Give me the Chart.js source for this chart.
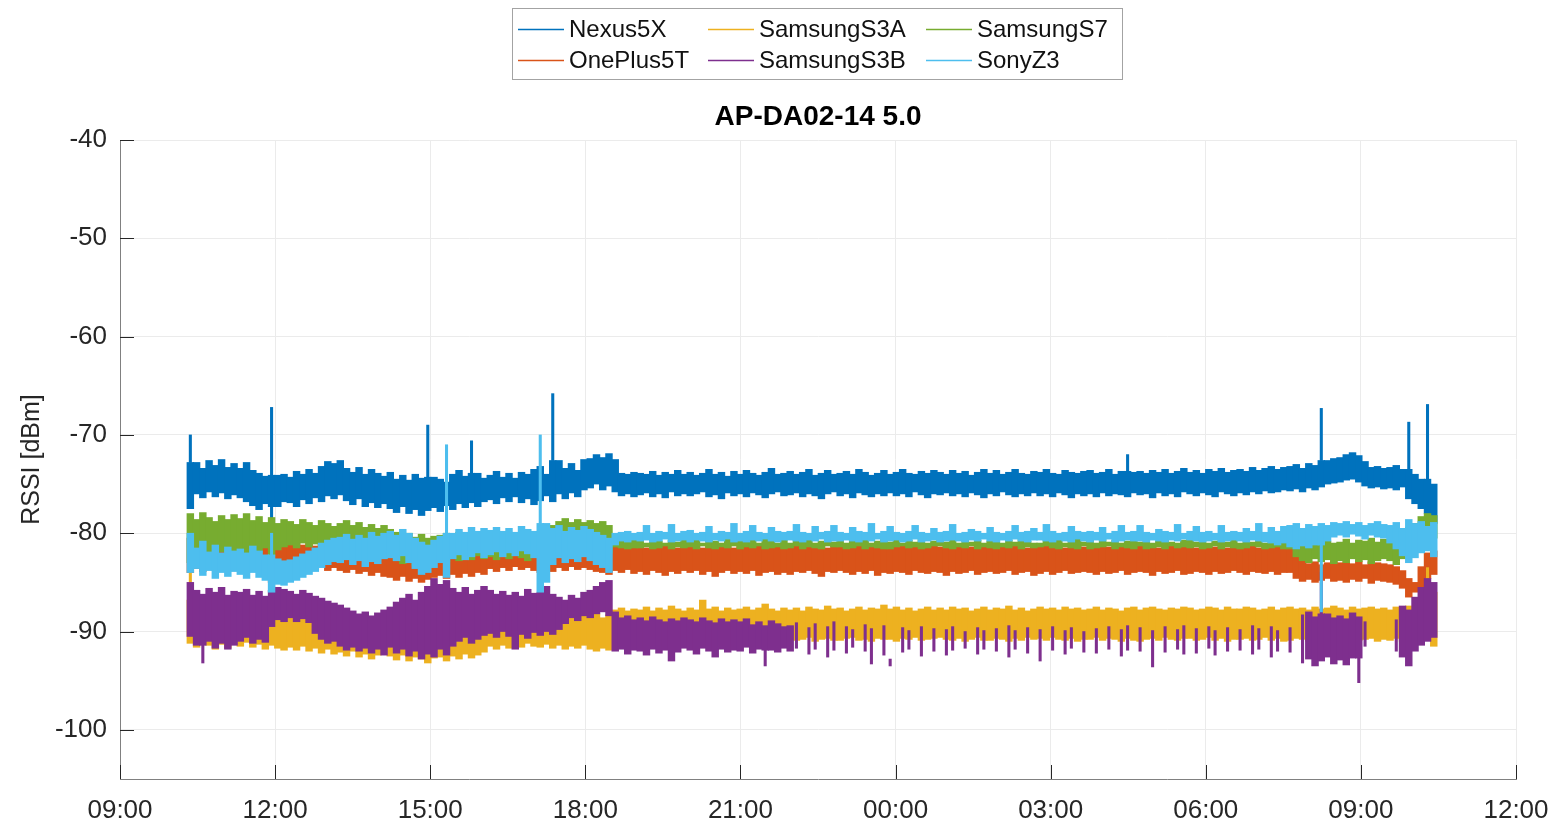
<!DOCTYPE html>
<html>
<head>
<meta charset="utf-8">
<title>AP-DA02-14 5.0</title>
<script src="https://cdn.jsdelivr.net/npm/chart.js@4.4.1/dist/chart.umd.min.js"></script>
<style>
  html, body { margin: 0; padding: 0; background: #fff; }
  #wrap { width: 1555px; height: 825px; }
</style>
</head>
<body>
<div id="wrap"><canvas id="rssi" width="1555" height="825"></canvas></div>
<script>
// measurement window, clock hours (day 2 counted as 24+)
const tStart = 10.3;
const tEnd = 34.47;

// x axis ticks every 3 h from 09:00 to 12:00 next day
const xMin = 9, xMax = 36, xStep = 3;
const yTicks = [-100, -90, -80, -70, -60, -50, -40];

const deviceNames = ['Nexus5X', 'OnePlus5T', 'SamsungS3A', 'SamsungS3B', 'SamsungS7', 'SonyZ3'];

// per-bin upper / lower envelope of the RSSI trace [dBm], 200 bins over the window
const nexusHi = [
  -70.0,-72.8,-73.4,-72.6,-73.1,-72.5,-73.3,-72.9, -73.4,-72.8,-73.6,-73.9,-74.2,-67.2,-74.1,-74.0,
  -74.3,-73.7,-74.0,-73.5,-73.9,-73.2,-72.7,-72.9, -72.6,-73.4,-73.8,-73.3,-74.0,-73.5,-73.9,-74.2,
  -73.8,-74.5,-74.1,-74.6,-74.0,-74.4,-69.0,-74.3, -74.5,-74.8,-74.0,-73.6,-74.2,-70.6,-73.9,-74.4,
  -74.1,-73.7,-74.3,-73.9,-74.4,-73.8,-74.0,-73.5, -73.2,-74.0,-65.8,-72.6,-73.4,-72.9,-73.6,-72.5,
  -72.4,-72.0,-72.3,-71.9,-72.5,-73.9,-74.0,-73.8, -73.9,-74.0,-73.7,-74.1,-73.8,-74.0,-73.6,-74.0,
  -73.8,-74.1,-73.9,-73.5,-74.0,-73.8,-74.2,-73.7, -74.0,-73.6,-73.9,-74.1,-73.8,-73.4,-74.0,-73.9,
  -73.7,-74.0,-73.8,-73.5,-74.1,-73.9,-73.6,-74.0, -73.9,-73.7,-74.0,-73.5,-73.8,-74.1,-73.9,-73.6,
  -74.0,-73.8,-73.5,-73.9,-74.0,-73.7,-73.9,-73.6, -73.8,-74.0,-73.6,-73.9,-73.7,-74.1,-73.8,-73.5,
  -73.9,-73.6,-74.0,-73.8,-73.5,-73.9,-74.0,-73.7, -73.8,-73.5,-73.9,-74.0,-73.6,-73.8,-73.9,-73.7,
  -73.6,-73.9,-73.8,-73.5,-74.0,-73.7,-72.0,-73.8, -73.7,-73.9,-73.6,-73.8,-73.5,-73.9,-73.7,-73.4,
  -73.8,-73.6,-73.9,-73.5,-73.7,-73.4,-73.8,-73.6, -73.5,-73.7,-73.3,-73.6,-73.4,-73.2,-73.5,-73.3,
  -73.2,-73.0,-73.4,-72.9,-73.1,-67.3,-72.6,-72.4, -72.3,-72.0,-71.8,-72.1,-72.7,-73.3,-73.2,-73.4,
  -73.3,-73.1,-73.5,-68.7,-74.0,-74.5,-66.9,-75.0
];
const nexusLo = [
  -77.5,-76.0,-76.4,-75.8,-76.3,-75.9,-76.5,-76.1, -76.4,-76.8,-77.2,-77.6,-77.0,-79.5,-77.3,-76.8,
  -76.9,-77.3,-76.6,-77.0,-76.4,-76.8,-76.2,-76.5, -76.1,-76.7,-77.1,-76.5,-77.3,-76.9,-77.4,-77.0,
  -77.5,-77.9,-77.3,-78.0,-77.6,-78.2,-77.7,-77.4, -77.8,-77.2,-77.6,-77.0,-77.4,-76.9,-77.3,-76.8,
  -76.6,-77.0,-76.4,-76.8,-76.3,-76.9,-76.5,-77.1, -76.7,-76.2,-76.8,-76.0,-76.5,-75.9,-76.3,-75.6,
  -75.4,-75.0,-75.6,-75.2,-75.8,-76.2,-76.0,-76.3, -76.1,-75.9,-76.3,-76.0,-76.4,-75.8,-76.2,-76.0,
  -76.2,-76.0,-75.8,-76.3,-76.1,-76.5,-75.9,-76.2, -76.0,-76.3,-75.9,-76.1,-76.4,-76.0,-75.8,-76.2,
  -76.1,-75.9,-76.3,-76.0,-76.2,-76.5,-76.0,-75.8, -76.2,-76.0,-76.4,-75.9,-76.1,-76.3,-76.0,-76.2,
  -75.9,-76.2,-76.0,-76.3,-75.8,-76.1,-76.4,-76.0, -76.1,-75.9,-76.2,-76.0,-76.3,-75.9,-76.1,-76.4,
  -76.0,-76.2,-75.8,-76.1,-76.3,-76.0,-76.2,-75.9, -76.2,-76.0,-76.3,-75.9,-76.1,-76.4,-76.0,-76.2,
  -76.0,-76.3,-75.9,-76.2,-76.0,-76.1,-76.3,-75.9, -76.1,-76.0,-76.4,-75.9,-76.2,-76.0,-76.3,-75.8,
  -76.0,-76.2,-75.9,-76.1,-76.3,-75.8,-76.0,-76.2, -75.9,-76.1,-75.8,-76.0,-75.7,-75.9,-75.8,-75.6,
  -75.7,-75.5,-75.8,-75.4,-75.6,-75.3,-75.0,-74.9, -74.8,-74.6,-74.5,-74.8,-75.2,-75.4,-75.3,-75.5,
  -75.4,-75.6,-75.3,-76.5,-77.0,-77.5,-78.0,-79.0
];

const onePlusHi = [
  -80.5,-81.2,-81.0,-81.4,-81.1,-81.5,-81.2,-81.3, -81.2,-81.5,-81.1,-81.4,-81.0,-80.5,-81.3,-81.2,
  -81.0,-80.8,-81.2,-80.9,-81.3,-81.0,-81.4,-81.2, -81.6,-81.9,-82.0,-81.8,-82.1,-81.9,-81.5,-81.8,
  -81.4,-81.8,-82.0,-82.3,-81.9,-82.2,-82.0,-81.8, -81.6,-82.0,-81.8,-82.1,-81.7,-82.0,-81.9,-81.6,
  -81.7,-82.0,-81.8,-82.1,-81.9,-82.2,-81.8,-82.0, -81.8,-81.5,-82.0,-81.7,-82.1,-81.9,-82.2,-81.8,
  -82.0,-81.8,-82.1,-81.9,-81.4,-81.3,-81.5,-81.2, -81.3,-81.5,-81.2,-81.4,-81.1,-81.3,-81.5,-81.2,
  -81.4,-81.2,-81.5,-81.3,-81.1,-81.4,-81.2,-81.5, -81.2,-81.4,-81.3,-81.1,-81.5,-81.2,-81.4,-81.3,
  -81.5,-81.3,-81.2,-81.4,-81.1,-81.3,-81.5,-81.2, -81.3,-81.1,-81.4,-81.2,-81.5,-81.3,-81.2,-81.4,
  -81.2,-81.4,-81.3,-81.5,-81.2,-81.1,-81.4,-81.3, -81.4,-81.2,-81.5,-81.3,-81.1,-81.4,-81.3,-81.2,
  -81.3,-81.5,-81.2,-81.4,-81.3,-81.1,-81.5,-81.2, -81.2,-81.3,-81.4,-81.1,-81.5,-81.2,-81.3,-81.4,
  -81.5,-81.2,-81.3,-81.4,-81.1,-81.3,-81.2,-81.5, -81.3,-81.4,-81.2,-81.5,-81.3,-81.1,-81.4,-81.2,
  -81.2,-81.5,-81.3,-81.1,-81.4,-81.2,-81.5,-81.3, -81.4,-81.2,-81.3,-81.5,-81.2,-81.4,-81.1,-81.3,
  -81.3,-81.5,-82.8,-83.1,-82.9,-83.2,-83.0,-82.8, -83.0,-82.7,-83.1,-82.8,-83.2,-82.9,-83.0,-83.1,
  -83.2,-83.4,-83.8,-84.6,-85.0,-83.4,-82.0,-81.8
];
const onePlusLo = [
  -84.0,-83.6,-83.9,-83.5,-83.8,-83.4,-83.7,-83.5, -83.6,-83.4,-83.8,-83.5,-83.9,-85.0,-83.6,-83.3,
  -83.5,-83.2,-83.6,-83.3,-83.7,-83.4,-83.8,-83.5, -83.8,-84.0,-83.7,-84.1,-83.9,-84.3,-84.0,-84.4,
  -84.5,-84.8,-84.4,-84.9,-84.6,-85.0,-84.7,-84.5, -84.3,-84.6,-84.2,-84.5,-84.1,-84.4,-84.0,-84.2,
  -83.6,-83.9,-83.5,-83.8,-83.4,-83.7,-83.5,-83.8, -84.0,-83.6,-83.9,-83.5,-83.8,-83.4,-83.7,-83.5,
  -83.7,-83.9,-84.0,-84.2,-83.8,-84.0,-83.7,-84.1, -83.9,-84.2,-83.8,-84.0,-84.3,-83.9,-84.1,-83.8,
  -84.0,-83.8,-84.2,-83.9,-84.4,-84.0,-83.8,-84.1, -83.9,-84.1,-83.8,-84.3,-84.0,-83.9,-84.2,-84.0,
  -84.2,-83.9,-84.0,-83.8,-84.1,-84.4,-83.9,-84.0, -83.8,-84.0,-84.2,-83.9,-84.1,-83.8,-84.3,-84.0,
  -84.1,-83.9,-84.0,-84.2,-83.8,-84.0,-84.1,-83.9, -84.0,-84.3,-83.9,-84.1,-84.0,-83.8,-84.2,-84.0,
  -83.9,-84.1,-84.0,-83.8,-84.2,-84.0,-83.9,-84.3, -84.1,-83.9,-84.2,-84.0,-83.8,-84.1,-84.0,-83.9,
  -84.0,-84.2,-83.9,-84.1,-84.0,-83.8,-84.2,-84.0, -83.9,-84.0,-84.3,-83.9,-84.1,-84.0,-83.8,-84.2,
  -84.1,-83.9,-84.0,-84.2,-83.9,-84.1,-84.0,-83.8, -84.0,-84.2,-83.9,-84.0,-84.1,-83.9,-84.2,-84.0,
  -84.0,-84.6,-84.9,-84.7,-85.0,-84.8,-84.6,-84.9, -84.8,-85.0,-84.7,-84.9,-84.6,-85.1,-84.8,-84.9,
  -85.0,-85.2,-85.6,-86.5,-86.0,-85.5,-84.6,-84.2
];

const s3aHi = [
  -79.0,-86.8,-87.2,-86.9,-87.4,-87.0,-87.5,-87.1, -87.3,-87.6,-87.1,-87.5,-87.2,-87.8,-88.0,-88.3,
  -88.2,-88.5,-88.0,-88.4,-88.1,-88.6,-88.3,-88.7, -88.5,-88.9,-88.6,-89.0,-88.7,-89.2,-88.8,-88.5,
  -88.3,-88.0,-88.5,-88.2,-88.6,-88.1,-88.4,-88.0, -87.8,-88.2,-87.9,-88.3,-88.0,-88.4,-87.7,-88.1,
  -87.9,-88.2,-87.8,-88.1,-88.4,-88.0,-88.3,-87.9, -88.1,-87.8,-88.2,-87.9,-88.3,-88.0,-88.4,-88.1,
  -88.4,-88.2,-88.6,-88.3,-87.8,-87.6,-87.9,-87.7, -87.8,-87.5,-87.9,-87.6,-87.8,-87.4,-87.7,-87.9,
  -87.6,-87.8,-86.8,-87.7,-87.5,-87.9,-87.6,-87.8, -87.7,-87.5,-87.8,-87.6,-87.2,-87.7,-87.9,-87.6,
  -87.8,-87.6,-87.9,-87.5,-87.7,-87.8,-87.4,-87.7, -87.6,-87.9,-87.7,-87.5,-87.8,-87.6,-87.7,-87.3,
  -87.7,-87.5,-87.8,-87.6,-87.9,-87.7,-87.5,-87.8, -87.6,-87.8,-87.5,-87.7,-87.6,-87.9,-87.7,-87.5,
  -87.8,-87.6,-87.7,-87.4,-87.8,-87.6,-87.9,-87.7, -87.5,-87.7,-87.6,-87.8,-87.5,-87.7,-87.6,-87.8,
  -87.7,-87.5,-87.8,-87.6,-87.7,-87.9,-87.6,-87.5, -87.8,-87.6,-87.5,-87.7,-87.8,-87.6,-87.7,-87.5,
  -87.6,-87.8,-87.7,-87.5,-87.6,-87.8,-87.5,-87.7, -87.7,-87.5,-87.6,-87.8,-87.7,-87.5,-87.8,-87.6,
  -87.5,-87.7,-87.6,-87.8,-87.5,-87.7,-87.6,-87.4, -87.6,-87.8,-87.5,-87.7,-87.6,-87.5,-87.7,-87.6,
  -87.8,-87.5,-87.7,-87.4,-87.6,-87.2,-83.5,-86.0
];
const s3aLo = [
  -91.2,-91.6,-91.0,-91.4,-91.8,-91.3,-91.7,-91.2, -91.5,-91.1,-91.6,-91.3,-91.8,-91.4,-91.7,-91.9,
  -91.6,-91.9,-91.5,-92.0,-91.7,-92.2,-91.8,-92.3, -92.1,-92.5,-92.0,-92.6,-92.3,-92.8,-92.4,-92.2,
  -92.5,-92.9,-92.4,-93.0,-92.6,-92.8,-93.2,-92.7, -92.6,-93.0,-92.5,-92.8,-92.3,-92.7,-92.4,-92.1,
  -91.5,-91.8,-91.4,-91.7,-91.3,-91.6,-91.2,-91.5, -91.6,-91.3,-91.7,-91.4,-91.8,-91.5,-91.7,-91.4,
  -91.8,-92.0,-91.7,-91.9,-90.8,-90.6,-90.9,-90.7, -90.8,-91.0,-90.6,-90.9,-90.7,-91.1,-90.8,-90.6,
  -90.9,-90.7,-91.0,-90.8,-90.6,-90.9,-91.1,-90.7, -90.8,-90.6,-90.9,-91.0,-90.7,-90.8,-90.6,-91.0,
  -90.7,-90.9,-90.8,-90.6,-91.0,-90.8,-90.7,-90.9, -90.9,-90.7,-90.6,-90.9,-90.8,-91.0,-90.7,-90.8,
  -90.8,-91.0,-90.7,-90.8,-90.6,-90.9,-90.8,-90.7, -90.6,-90.8,-90.9,-90.7,-91.0,-90.8,-90.6,-90.9,
  -90.9,-90.7,-90.8,-91.0,-90.7,-90.9,-90.6,-90.8, -90.7,-90.9,-90.6,-90.8,-90.9,-90.7,-91.0,-90.8,
  -90.8,-90.6,-90.9,-90.7,-90.8,-91.0,-90.7,-90.9, -91.0,-90.8,-90.7,-90.9,-90.6,-90.8,-90.9,-90.7,
  -90.7,-90.9,-90.8,-90.6,-90.9,-90.7,-91.0,-90.8, -90.8,-90.7,-90.9,-90.8,-90.6,-90.9,-90.7,-91.0,
  -90.9,-90.7,-90.8,-91.0,-90.7,-90.9,-90.8,-90.6, -90.8,-91.0,-90.7,-90.9,-90.8,-90.7,-91.0,-90.8,
  -90.9,-90.7,-91.0,-91.2,-90.8,-91.0,-90.6,-91.5
];

// null = no sample from this phone in that bin
const s3bHi = [
  -85.0,-85.8,-86.2,-85.6,-86.0,-85.5,-86.3,-85.9, -86.0,-85.7,-86.3,-85.9,-86.4,-85.8,-85.5,-85.7,
  -85.9,-86.2,-85.8,-86.1,-86.4,-86.6,-86.9,-87.1, -87.3,-87.6,-87.9,-88.2,-88.0,-88.4,-88.1,-87.8,
  -87.5,-87.0,-86.6,-86.2,-86.8,-86.0,-85.4,-84.6, -85.2,-84.8,-85.6,-86.0,-85.5,-86.2,-85.8,-85.4,
  -85.8,-86.2,-85.9,-86.3,-86.0,-86.4,-85.7,-86.1, -86.0,-85.4,-86.2,-86.5,-86.8,-86.3,-86.6,-86.0,
  -85.8,-85.4,-85.0,-84.8,-88.0,-88.6,-88.4,-88.8, -88.6,-88.9,-88.5,-88.8,-89.0,-88.7,-88.9,-88.6,
  -88.8,-89.0,-88.6,-88.9,-89.1,-88.7,-89.0,-88.8, -89.0,-88.7,-89.3,-89.0,-89.4,-88.9,-89.2,-89.5,
  -89.4,-89.1,null,-89.6,-89.2,null,-89.5,-89.0, null,-89.5,-89.8,null,-89.3,-89.7,null,-89.4,
  -92.8,null,-89.6,-89.9,null,-89.5,null,-89.7, null,-89.8,-89.5,null,-90.0,null,-89.6,-89.9,
  null,-89.7,null,-89.4,-89.9,null,-89.6,null, -89.8,null,-89.5,null,-89.9,-89.6,null,-90.0,
  null,-89.7,null,-89.5,null,-89.8,-89.4,null, -89.6,null,-89.9,null,-89.5,null,-89.8,-89.4,
  null,-89.7,null,-89.5,-89.9,null,-89.6,null, -89.8,null,-89.4,-89.7,null,-89.5,-89.9,null,
  -89.6,null,-88.3,-88.0,-88.5,-84.0,-88.2,-88.6, -88.4,-88.7,-88.1,-88.5,-89.0,null,null,null,
  null,-88.8,-87.4,-87.8,-86.5,-85.5,-84.6,-85.0
];
const s3bLo = [
  -90.5,-91.4,-93.2,-91.0,-91.7,-91.2,-91.8,-91.4, -91.0,-90.6,-91.2,-90.8,-91.1,-89.5,-88.8,-89.0,
  -88.6,-89.0,-88.7,-89.1,-90.2,-90.8,-91.2,-91.0, -91.5,-91.9,-91.6,-92.0,-91.7,-92.2,-91.8,-92.4,
  -91.6,-92.2,-91.8,-92.5,-92.0,-92.8,-92.3,-92.6, -91.8,-92.4,-91.5,-91.0,-90.6,-91.2,-90.8,-90.4,
  -90.2,-90.6,-90.0,-90.5,-91.8,-90.3,-90.7,-90.1, -90.4,-90.0,-90.3,-89.8,-89.2,-88.6,-88.9,-88.4,
  -88.6,-88.2,-88.0,-88.4,-92.0,-91.8,-92.3,-91.9, -92.0,-92.4,-91.8,-92.2,-91.9,-93.0,-92.1,-91.7,
  -91.9,-92.3,-91.7,-92.0,-92.6,-91.8,-92.1,-91.9, -92.0,-91.6,-92.2,-91.8,-93.5,-91.9,-92.1,-91.7,
  -92.0,-91.7,null,-92.3,-91.8,null,-92.6,-91.9, null,-92.2,-91.6,null,-92.0,-93.3,null,-92.4,
  -93.5,null,-92.1,-91.8,null,-92.5,null,-92.0, null,-92.4,-91.9,null,-91.7,null,-92.3,-91.8,
  null,-92.0,null,-92.6,-91.8,null,-92.2,null, -93.0,null,-91.9,null,-92.3,-91.7,null,-92.1,
  null,-92.2,null,-91.8,null,-92.5,-91.9,null, -92.0,null,-93.6,null,-92.1,null,-91.8,-92.3,
  null,-92.2,null,-91.7,-92.4,null,-92.0,null, -91.9,null,-92.3,-91.8,null,-92.6,-92.0,null,
  -92.1,null,-93.2,-92.8,-93.5,-93.0,-92.6,-93.3, -92.9,-93.4,-92.7,-95.2,-91.5,null,null,null,
  null,-92.0,-92.6,-93.5,-92.0,-91.4,-91.0,-90.6
];

const s7Hi = [
  -78.0,-78.6,-77.9,-78.4,-78.8,-78.2,-78.6,-78.1, -78.5,-78.0,-78.7,-78.3,-78.9,-78.4,-79.0,-78.6,
  -78.8,-79.1,-78.6,-78.9,-79.2,-78.7,-79.0,-79.3, -79.0,-78.7,-79.2,-78.9,-79.4,-79.1,-79.5,-79.2,
  -79.6,-79.9,-80.2,-80.0,-80.4,-80.1,-80.5,-80.3, -80.2,-80.0,-80.4,-79.9,-80.3,-80.0,-80.2,-79.8,
  -80.0,-80.3,-79.9,-80.2,-80.4,-80.1,-79.8,-80.0, -79.8,-79.5,-79.2,-78.8,-78.5,-78.9,-78.6,-78.9,
  -78.7,-79.0,-78.8,-79.2,-80.3,-80.6,-80.5,-80.6, -80.7,-81.0,-80.6,-80.8,-81.0,-80.7,-80.9,-80.6,
  -80.9,-80.6,-81.0,-80.7,-80.8,-81.0,-80.6,-80.9, -80.6,-80.9,-80.7,-81.0,-80.6,-80.8,-81.0,-80.7,
  -81.0,-80.7,-80.9,-80.6,-81.0,-80.8,-80.6,-80.9, -80.7,-81.0,-80.6,-80.9,-80.7,-81.0,-80.8,-80.6,
  -80.9,-80.6,-81.0,-80.7,-80.9,-80.6,-81.0,-80.8, -80.6,-80.9,-80.7,-81.0,-80.6,-80.9,-80.7,-81.0,
  -80.8,-80.6,-81.0,-80.7,-80.9,-80.6,-80.8,-81.0, -81.0,-80.7,-80.9,-80.6,-81.0,-80.8,-80.6,-80.9,
  -80.7,-81.0,-80.6,-80.9,-80.7,-81.0,-80.8,-80.6, -80.9,-80.6,-81.0,-80.8,-80.6,-80.9,-81.0,-80.7,
  -80.6,-80.9,-80.7,-81.0,-80.8,-80.6,-80.9,-80.7, -81.0,-80.7,-80.9,-80.6,-81.0,-80.8,-80.7,-80.9,
  -80.8,-80.6,-80.9,-80.7,-81.0,-80.5,-80.8,-81.0, -80.9,-80.6,-81.0,-80.7,-80.8,-80.5,-80.9,-80.6,
  -80.7,-81.0,-80.2,-79.4,-79.0,-78.3,-78.0,-78.2
];
const s7Lo = [
  -83.0,-82.2,-82.6,-82.0,-82.4,-81.9,-82.5,-82.1, -81.8,-82.2,-81.6,-82.0,-81.5,-82.3,-81.7,-81.4,
  -81.2,-81.5,-81.0,-81.4,-81.1,-81.6,-81.3,-81.5, -81.6,-81.9,-81.5,-82.0,-81.7,-82.1,-81.8,-82.2,
  -82.4,-82.8,-83.1,-82.7,-83.3,-82.9,-83.2,-82.8, -82.6,-82.9,-82.5,-82.8,-82.4,-82.7,-82.3,-82.6,
  -82.4,-82.7,-82.3,-82.6,-82.2,-82.5,-82.8,-82.4, -82.3,-82.0,-81.7,-81.4,-81.6,-81.2,-81.5,-81.3,
  -81.4,-81.6,-81.8,-82.0,-81.4,-81.5,-81.6,-81.5, -81.5,-81.4,-81.6,-81.5,-81.3,-81.6,-81.4,-81.5,
  -81.4,-81.6,-81.3,-81.5,-81.6,-81.4,-81.5,-81.3, -81.6,-81.4,-81.5,-81.3,-81.6,-81.5,-81.4,-81.6,
  -81.5,-81.3,-81.6,-81.4,-81.5,-81.6,-81.3,-81.4, -81.4,-81.6,-81.5,-81.3,-81.6,-81.4,-81.5,-81.6,
  -81.6,-81.4,-81.3,-81.5,-81.4,-81.6,-81.5,-81.3, -81.3,-81.5,-81.6,-81.4,-81.5,-81.3,-81.6,-81.4,
  -81.5,-81.6,-81.4,-81.5,-81.3,-81.6,-81.4,-81.5, -81.4,-81.3,-81.5,-81.6,-81.4,-81.5,-81.6,-81.3,
  -81.6,-81.5,-81.4,-81.3,-81.6,-81.4,-81.5,-81.6, -81.3,-81.6,-81.5,-81.4,-81.6,-81.3,-81.5,-81.4,
  -81.5,-81.4,-81.6,-81.5,-81.3,-81.6,-81.4,-81.5, -81.6,-81.5,-81.3,-81.4,-81.6,-81.5,-81.4,-81.6,
  -81.6,-82.4,-82.8,-83.0,-82.6,-82.9,-82.7,-83.1, -82.8,-83.0,-82.6,-82.9,-82.7,-83.1,-82.8,-82.6,
  -82.8,-83.2,-82.6,-81.5,-81.0,-80.6,-80.9,-80.5
];

const sonyHi = [
  -80.0,-81.5,-80.8,-81.9,-81.2,-82.0,-81.4,-81.8, -81.6,-82.0,-81.3,-81.8,-82.2,-80.0,-82.6,-82.8,
  -82.7,-82.4,-82.1,-81.8,-81.5,-81.0,-80.7,-80.5, -80.4,-80.1,-80.6,-80.2,-80.5,-79.9,-80.3,-80.0,
  -79.8,-80.2,-79.6,-80.0,-80.5,-80.9,-81.2,-80.7, -80.3,-71.0,-80.0,-79.6,-79.9,-79.4,-79.8,-79.5,
  -79.7,-79.4,-79.8,-79.5,-79.9,-79.3,-79.6,-79.8, -70.0,-79.0,-79.5,-79.2,-79.8,-79.4,-79.7,-79.3,
  -79.6,-79.9,-80.2,-80.5,-80.0,-79.9,-79.8,-80.0, -79.9,-79.2,-80.0,-79.8,-79.9,-79.1,-80.0,-79.8,
  -79.7,-80.0,-79.9,-79.3,-80.0,-79.8,-79.9,-79.0, -80.0,-79.8,-79.2,-79.9,-80.0,-79.4,-79.8,-79.9,
  -79.8,-79.1,-79.9,-80.0,-79.3,-79.9,-79.8,-79.2, -79.9,-80.0,-79.4,-79.8,-79.9,-79.0,-80.0,-79.8,
  -79.3,-79.9,-80.0,-79.8,-79.2,-79.9,-80.0,-79.5, -79.9,-79.8,-79.1,-80.0,-79.9,-79.6,-79.8,-80.0,
  -79.4,-79.9,-80.0,-79.8,-79.2,-79.9,-79.8,-79.5, -79.9,-79.1,-79.8,-80.0,-79.9,-79.3,-79.8,-79.9,
  -79.8,-79.9,-79.4,-80.0,-79.8,-79.2,-79.9,-79.8, -79.2,-79.9,-80.0,-79.6,-79.8,-79.9,-79.1,-80.0,
  -79.8,-79.3,-79.9,-79.8,-80.0,-79.2,-79.9,-79.8, -79.9,-79.5,-79.8,-79.0,-79.9,-79.4,-79.8,-79.3,
  -79.2,-79.0,-79.5,-79.1,-79.3,-79.0,-79.2,-78.9, -79.0,-78.8,-79.1,-78.9,-79.2,-79.0,-78.8,-79.1,
  -79.2,-78.9,-79.5,-78.6,-79.0,-78.8,-79.3,-78.9
];
const sonyLo = [
  -84.0,-83.6,-84.3,-83.8,-84.6,-84.0,-84.4,-83.9, -84.2,-84.6,-84.0,-84.5,-84.8,-86.0,-85.2,-85.3,
  -85.0,-84.8,-84.5,-84.2,-83.9,-83.5,-83.2,-82.9, -83.0,-82.7,-83.2,-82.8,-83.4,-82.9,-83.1,-82.6,
  -82.5,-82.8,-82.3,-83.0,-83.6,-84.2,-84.0,-83.5, -83.0,-84.5,-82.6,-82.2,-82.7,-82.4,-82.0,-82.5,
  -82.2,-81.9,-82.4,-82.0,-82.3,-81.8,-82.1,-82.5, -86.0,-85.0,-83.2,-82.5,-83.0,-82.6,-82.9,-82.4,
  -82.8,-83.2,-83.5,-84.0,-81.2,-80.8,-80.9,-80.7, -80.8,-80.7,-80.9,-80.8,-80.6,-80.9,-80.8,-80.7,
  -80.9,-80.7,-80.8,-80.9,-80.7,-80.8,-80.6,-80.9, -80.8,-80.9,-80.7,-80.8,-80.6,-80.8,-80.9,-80.7,
  -80.7,-80.8,-80.9,-80.7,-80.8,-80.6,-80.9,-80.8, -80.8,-80.7,-80.8,-80.9,-80.7,-80.8,-80.6,-80.9,
  -80.8,-80.7,-80.9,-80.8,-80.6,-80.9,-80.8,-80.7, -80.9,-80.8,-80.7,-80.8,-80.9,-80.7,-80.8,-80.6,
  -80.8,-80.9,-80.7,-80.8,-80.6,-80.8,-80.9,-80.7, -80.7,-80.8,-80.9,-80.7,-80.8,-80.9,-80.6,-80.8,
  -80.9,-80.7,-80.8,-80.6,-80.9,-80.8,-80.7,-80.8, -80.8,-80.9,-80.7,-80.8,-80.9,-80.7,-80.8,-80.6,
  -80.7,-80.8,-80.9,-80.8,-80.7,-80.9,-80.8,-80.7, -80.8,-80.9,-80.7,-80.8,-80.9,-81.0,-81.2,-81.0,
  -81.4,-81.6,-81.3,-81.5,-81.2,-88.0,-80.8,-80.4, -80.2,-80.4,-80.1,-80.3,-80.6,-80.2,-80.4,-80.5,
  -81.0,-81.6,-82.3,-83.0,-82.5,-82.0,-81.8,-82.4
];

// MATLAB default colour order
const colors = ['#0072BD', '#D95319', '#EDB120', '#7E2F8E', '#77AC30', '#4DBEEE'];
const highs = [nexusHi, onePlusHi, s3aHi, s3bHi, s7Hi, sonyHi];
const lows = [nexusLo, onePlusLo, s3aLo, s3bLo, s7Lo, sonyLo];

const FONT = '"Liberation Sans", Arial, Helvetica, sans-serif';
const INK = '#262626';
const SPIKE_DB = 1.5;

// Split every bin into a wide bar (the noise band) and thin strokes for
// whatever sticks out past its neighbours, so that single spikes and
// isolated bursts stay narrow.
function toBars(hi, lo) {
  const step = (tEnd - tStart) / hi.length;
  const wide = [], thin = [];
  for (let i = 0; i < hi.length; i++) {
    if (hi[i] === null || lo[i] === null) continue;
    const x = tStart + (i + 0.5) * step;
    const nb = [i - 1, i + 1].filter(j => j >= 0 && j < hi.length);
    if (nb.some(j => hi[j] === null)) {
      thin.push({ x, y: [lo[i], hi[i]] });
      continue;
    }
    let top = hi[i], bot = lo[i];
    const nbTop = Math.max(...nb.map(j => hi[j]));
    const nbBot = Math.min(...nb.map(j => lo[j]));
    if (top > nbTop + SPIKE_DB) { thin.push({ x, y: [nbTop, top] }); top = nbTop; }
    if (bot < nbBot - SPIKE_DB) { thin.push({ x, y: [bot, nbBot] }); bot = nbBot; }
    wide.push({ x, y: [bot, top] });
  }
  return { wide, thin };
}

const datasets = [];
deviceNames.forEach((name, k) => {
  const bars = toBars(highs[k], lows[k]);
  [['wide', 6.8], ['thin', 2.4]].forEach(([kind, w]) => {
    if (!bars[kind].length) return;
    datasets.push({
      label: name,
      data: bars[kind],
      backgroundColor: colors[k],
      borderWidth: 0,
      barThickness: w,
      grouped: false,
      // later phones are plotted on top
      order: deviceNames.length - k
    });
  });
});

function hhmm(v) {
  const h = ((v % 24) + 24) % 24;
  return String(h).padStart(2, '0') + ':00';
}

// title, legend box and the inward tick marks
const axesDecor = {
  id: 'axesDecor',
  afterDraw(chart) {
    const { ctx, chartArea: a, scales: { x, y } } = chart;
    ctx.save();

    ctx.strokeStyle = INK;
    ctx.lineWidth = 1;
    ctx.beginPath();
    x.ticks.forEach(t => {
      const px = Math.round(x.getPixelForValue(t.value)) + 0.5;
      ctx.moveTo(px, a.bottom);
      ctx.lineTo(px, a.bottom - 14);
    });
    y.ticks.forEach(t => {
      const py = Math.round(y.getPixelForValue(t.value)) + 0.5;
      ctx.moveTo(a.left, py);
      ctx.lineTo(a.left + 14, py);
    });
    ctx.stroke();

    // title
    const cx = (a.left + a.right) / 2;
    ctx.fillStyle = '#000';
    ctx.font = 'bold 28px ' + FONT;
    ctx.textAlign = 'center';
    ctx.textBaseline = 'middle';
    ctx.fillText('AP-DA02-14 5.0', cx, 117);

    // legend, filled column by column (2 rows x 3 columns)
    const box = { l: 512, t: 8, r: 1122, b: 79 };
    ctx.fillStyle = '#fff';
    ctx.fillRect(box.l, box.t, box.r - box.l, box.b - box.t);
    ctx.strokeStyle = '#a3a3a3';
    ctx.strokeRect(box.l + 0.5, box.t + 0.5, box.r - box.l, box.b - box.t);

    const colX = [518, 708, 926];
    const rowY = [29, 60];
    ctx.font = '24px ' + FONT;
    ctx.textAlign = 'left';
    deviceNames.forEach((name, k) => {
      const cx0 = colX[Math.floor(k / 2)];
      const cy0 = rowY[k % 2];
      ctx.strokeStyle = colors[k];
      ctx.lineWidth = 1.4;
      ctx.beginPath();
      ctx.moveTo(cx0, cy0 + 0.5);
      ctx.lineTo(cx0 + 46, cy0 + 0.5);
      ctx.stroke();
      ctx.fillStyle = '#111';
      ctx.fillText(name, cx0 + 51, cy0 + 1);
    });
    ctx.restore();
  }
};

Chart.defaults.font.family = FONT;

new Chart(document.getElementById('rssi'), {
  type: 'bar',
  data: { datasets },
  plugins: [axesDecor],
  options: {
    responsive: false,
    animation: false,
    devicePixelRatio: 1,
    layout: { padding: { top: 140, right: 39, left: 0, bottom: 0 } },
    plugins: {
      legend: { display: false },
      title: { display: false },
      tooltip: { enabled: false }
    },
    scales: {
      x: {
        type: 'linear',
        min: xMin,
        max: xMax,
        offset: false,
        afterFit(s) {
          s.height = 46;
          s.paddingLeft = 0;
          s.paddingRight = 0;
        },
        ticks: {
          stepSize: xStep,
          color: INK,
          font: { size: 26 },
          padding: 16,
          maxRotation: 0,
          autoSkip: false,
          callback: v => hhmm(v)
        },
        grid: { color: '#ebebeb', drawTicks: false, offset: false },
        border: { color: '#808080', width: 1 }
      },
      y: {
        min: -105,
        max: -40,
        afterFit(s) { s.width = 120; },
        afterBuildTicks(s) { s.ticks = yTicks.map(v => ({ value: v })); },
        ticks: {
          color: INK,
          font: { size: 26 },
          padding: 13
        },
        grid: { color: '#ebebeb', drawTicks: false },
        border: { color: '#808080', width: 1 },
        title: {
          display: true,
          text: 'RSSI [dBm]',
          color: INK,
          font: { size: 25 },
          padding: { top: 17, bottom: 0 }
        }
      }
    }
  }
});
</script>
</body>
</html>
